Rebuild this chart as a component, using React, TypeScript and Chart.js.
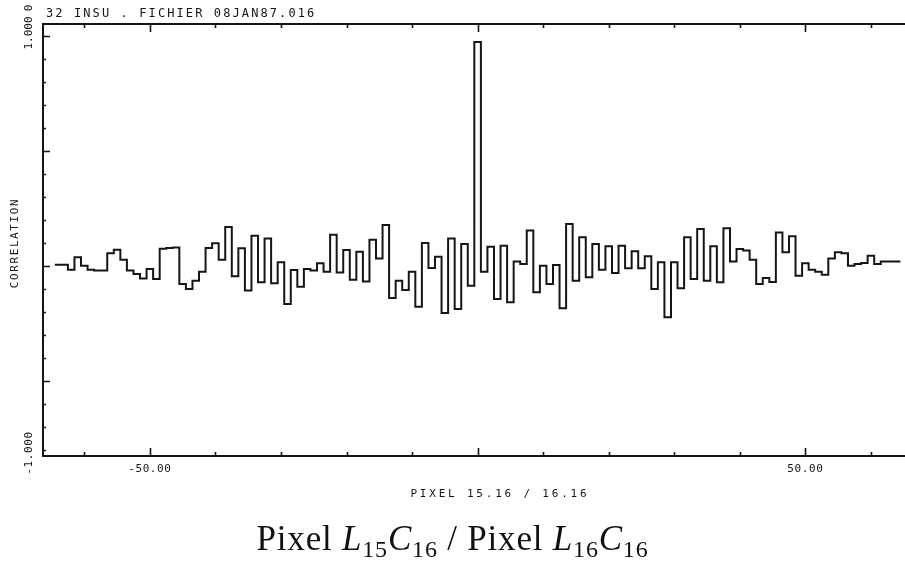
import React, { useEffect, useRef } from 'react';
import { Chart, registerables } from 'chart.js';

Chart.register(...registerables);

// ---- data ----
const LAG_START = -64;
const CORRELATION = [
  // lags -64 .. -35
  0.005, 0.005, -0.016, 0.038, 0.001, -0.016, -0.02, -0.02, 0.055, 0.071,
  0.027, -0.02, -0.035, -0.054, -0.013, -0.057, 0.075, 0.078, 0.08, -0.078,
  -0.1, -0.064, -0.025, 0.078, 0.099, 0.027, 0.17, -0.045, 0.077, -0.107,
  // lags -34 .. -1
  0.132, -0.071, 0.12, -0.075, 0.016, -0.165, -0.017, -0.09, -0.013, -0.02,
  0.012, -0.025, 0.136, -0.028, 0.07, -0.06, 0.062, -0.067, 0.114, 0.033,
  0.178, -0.139, -0.064, -0.104, -0.025, -0.177, 0.1, -0.009, 0.04, -0.204,
  0.12, -0.187, 0.096, -0.086,
  // lag 0
  0.974,
  // lags 1 .. 30
  -0.025, 0.084, -0.143, 0.088, -0.158, 0.019, 0.009, 0.154, -0.114, 0.001,
  -0.078, 0.004, -0.184, 0.183, -0.064, 0.125, -0.049, 0.096, -0.016, 0.086,
  -0.03, 0.088, -0.01, 0.064, -0.01, 0.042, -0.1, 0.016, -0.223, 0.016,
  // lags 31 .. 64
  -0.097, 0.125, -0.057, 0.161, -0.064, 0.086, -0.071, 0.164, 0.019, 0.074,
  0.067, 0.027, -0.078, -0.052, -0.07, 0.146, 0.06, 0.129, -0.042, 0.012,
  -0.016, -0.025, -0.038, 0.033, 0.06, 0.055, 0.001, 0.009, 0.013, 0.045,
  0.009, 0.02, 0.02, 0.02,
];

const X_MIN = -66.3;
const X_MAX = 65.2;
const Y_MIN = -0.826;
const Y_MAX = 1.052;

const X_TICKS = [-60, -50, -40, -30, -20, -10, 0, 10, 20, 30, 40, 50, 60];
const X_MAJOR_TICKS = [-50, 0, 50];
const X_LABEL_VALUES = [-50, 50];
const X_LABELS = ['-50.00', '50.00'];

const Y_TICKS = [-0.8, -0.7, -0.6, -0.5, -0.4, -0.3, -0.2, -0.1, 0, 0.1, 0.2, 0.3, 0.4, 0.5, 0.6, 0.7, 0.8, 0.9, 1.0];
const Y_MAJOR_TICKS = [-0.5, 0, 0.5, 1.0];
const Y_TOP_LABEL = '1.000';
const Y_BOTTOM_LABEL = '-1.000';

const TITLE = '32 INSU . FICHIER 08JAN87.016';
const TITLE_PREFIX = '0';
const Y_TITLE = 'CORRELATION';
const X_TITLE = 'PIXEL 15.16 / 16.16';

const INK = '#151515';
const MONO = '"DejaVu Sans Mono", "Liberation Mono", monospace';

function buildPoints() {
  const pts = CORRELATION.map((v, i) => ({ x: LAG_START + i - 0.5, y: v }));
  const last = CORRELATION[CORRELATION.length - 1];
  pts.push({ x: LAG_START + CORRELATION.length - 0.5, y: last });
  return pts;
}

function spacedText(ctx: any, text: string, x: number, y: number, spacing: number) {
  ctx.letterSpacing = spacing + 'px';
  ctx.fillText(text, x, y);
  ctx.letterSpacing = '0px';
}

const framePlugin = {
  id: 'plotterFrame',
  afterDraw(chart: any) {
    const { ctx, chartArea: a, scales } = chart;
    const xs = scales.x;
    const ys = scales.y;
    ctx.save();
    ctx.strokeStyle = INK;
    ctx.fillStyle = INK;

    // frame: top, left, bottom
    ctx.lineWidth = 2;
    ctx.beginPath();
    ctx.moveTo(a.right, a.top);
    ctx.lineTo(a.left, a.top);
    ctx.lineTo(a.left, a.bottom);
    ctx.lineTo(a.right, a.bottom);
    ctx.stroke();

    // x ticks (inward, bottom and top)
    ctx.lineWidth = 1.6;
    ctx.beginPath();
    for (const v of X_TICKS) {
      const px = Math.round(xs.getPixelForValue(v)) + 0.5;
      const len = X_MAJOR_TICKS.includes(v) ? 8 : 4;
      ctx.moveTo(px, a.bottom);
      ctx.lineTo(px, a.bottom - len);
      ctx.moveTo(px, a.top);
      ctx.lineTo(px, a.top + len);
    }
    // y ticks (inward, left)
    for (const v of Y_TICKS) {
      const py = Math.round(ys.getPixelForValue(v)) + 0.5;
      const len = Y_MAJOR_TICKS.some((m) => Math.abs(m - v) < 1e-9) ? 7 : 3;
      ctx.moveTo(a.left, py);
      ctx.lineTo(a.left + len, py);
    }
    ctx.stroke();

    // x tick labels
    ctx.font = `11px ${MONO}`;
    ctx.textAlign = 'center';
    ctx.textBaseline = 'alphabetic';
    X_LABEL_VALUES.forEach((v, i) => {
      spacedText(ctx, X_LABELS[i], xs.getPixelForValue(v), a.bottom + 16, 0.6);
    });

    // x title
    ctx.font = `11px ${MONO}`;
    spacedText(ctx, X_TITLE, xs.getPixelForValue(3.4), a.bottom + 41, 2.8);

    // title
    ctx.textAlign = 'left';
    ctx.font = `12px ${MONO}`;
    spacedText(ctx, TITLE, 46, 17, 2.1);

    // rotated y labels
    const rot = (text: string, x: number, y: number, size: number, spacing: number) => {
      ctx.save();
      ctx.translate(x, y);
      ctx.rotate(-Math.PI / 2);
      ctx.font = `${size}px ${MONO}`;
      ctx.textAlign = 'center';
      ctx.textBaseline = 'middle';
      spacedText(ctx, text, 0, 0, spacing);
      ctx.restore();
    };
    rot(TITLE_PREFIX, 29, 8, 11, 0);
    rot(Y_TOP_LABEL, 29, ys.getPixelForValue(Y_MAX) + 9, 11, 0);
    rot(Y_BOTTOM_LABEL, 29, ys.getPixelForValue(Y_MIN) - 3, 11, 0.6);
    rot(Y_TITLE, 15, ys.getPixelForValue(0.1), 11, 1.6);

    ctx.restore();
  },
};

export default function App() {
  const canvasRef = useRef<HTMLCanvasElement | null>(null);

  useEffect(() => {
    const canvas = canvasRef.current;
    if (!canvas) return;
    const chart = new Chart(canvas, {
      type: 'line',
      data: {
        datasets: [
          {
            data: buildPoints(),
            stepped: 'before',
            borderColor: INK,
            borderWidth: 2,
            pointRadius: 0,
            fill: false,
          },
        ],
      },
      options: {
        animation: false,
        responsive: false,
        devicePixelRatio: 1,
        events: [],
        layout: { padding: { left: 43, top: 24, right: 0, bottom: 578 - 456 } },
        plugins: {
          legend: { display: false },
          tooltip: { enabled: false },
          title: { display: false },
        },
        scales: {
          x: { type: 'linear', display: false, min: X_MIN, max: X_MAX },
          y: { type: 'linear', display: false, min: Y_MIN, max: Y_MAX },
        },
      },
      plugins: [framePlugin],
    } as any);
    return () => chart.destroy();
  }, []);

  const subStyle: React.CSSProperties = { fontSize: 24, verticalAlign: -7, lineHeight: 0, fontStyle: 'normal' };
  const it: React.CSSProperties = { fontStyle: 'italic' };

  return (
    <div style={{ position: 'absolute', left: 0, top: 0, width: 905, height: 578, background: '#fff' }}>
      <canvas ref={canvasRef} width={905} height={578} style={{ display: 'block' }} />
      <div
        style={{
          position: 'absolute',
          left: 0,
          top: 521,
          width: 905,
          textAlign: 'center',
          fontFamily: '"Liberation Serif", "DejaVu Serif", serif',
          fontSize: 35,
          lineHeight: '35px',
          letterSpacing: '0.8px',
          color: '#111',
          whiteSpace: 'nowrap',
        }}
      >
        Pixel <span style={it}>L</span>
        <sub style={subStyle}>15</sub>
        <span style={it}>C</span>
        <sub style={subStyle}>16</sub> / Pixel <span style={it}>L</span>
        <sub style={subStyle}>16</sub>
        <span style={it}>C</span>
        <sub style={subStyle}>16</sub>
      </div>
    </div>
  );
}
